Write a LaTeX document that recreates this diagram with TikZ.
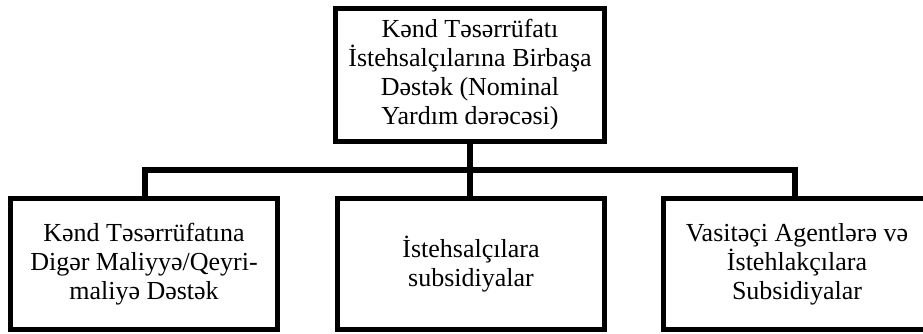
\documentclass[tikz,border=0pt]{standalone}
\usepackage{fontspec}
\setmainfont{Liberation Serif}
\begin{document}
\begin{tikzpicture}[x=1pt,y=1pt,
  box/.style={draw=black, line width=5pt, line join=miter, fill=white, align=center,
    inner sep=0pt, font=\fontsize{26}{29}\selectfont},
  topbox/.style={box, minimum width=269pt, minimum height=133pt},
  bottombox/.style={box, minimum width=267pt, minimum height=131pt},
  conn/.style={draw=black, line width=5.5pt, line join=miter}]
\useasboundingbox (0,0) rectangle (923,333);
\node[topbox] (top) at (470,258) {Kənd Təsərrüfatı\\İstehsalçılarına Birbaşa\\Dəstək (Nominal\\Yardım dərəcəsi)};
\node[bottombox] (left) at (144,69) {Kənd Təsərrüfatına\\Digər Maliyyə/Qeyri-\\maliyə Dəstək};
\node[bottombox] (mid) at (471,69) {İstehsalçılara\\subsidiyalar};
\node[bottombox] (right) at (797,69) {Vasitəçi Agentlərə və\\İstehlakçılara\\Subsidiyalar};
\coordinate (bar) at (470,163);
\draw[conn] (top.south) -- (bar);
\draw[conn] (left.north -| 145,0) |- (bar) -| (mid.north -| 470,0);
\draw[conn] (bar) -| (right.north -| 795,0);
\end{tikzpicture}
\end{document}
